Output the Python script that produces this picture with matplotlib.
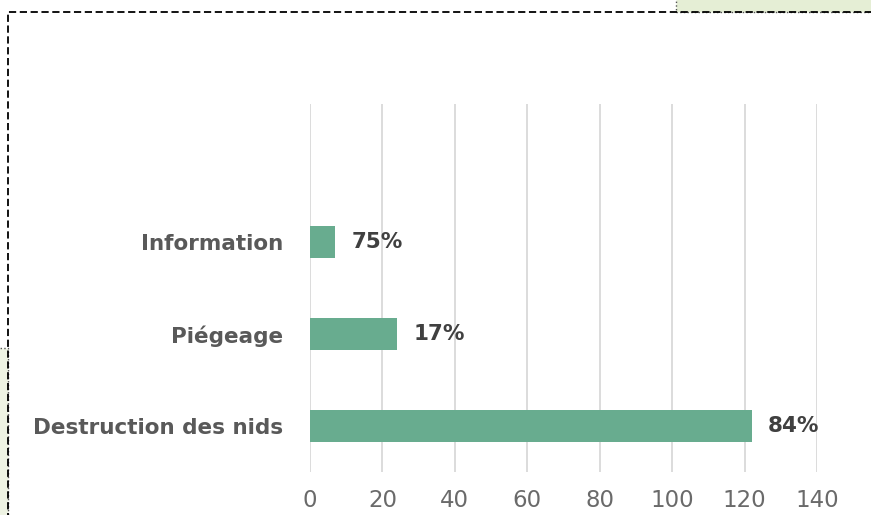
import matplotlib.pyplot as plt
from matplotlib.patches import Rectangle

categories = ["Destruction des nids", "Piégeage", "Information"]
values = [122, 24, 7]
labels = ["84%", "17%", "75%"]
ticks = [0, 20, 40, 60, 80, 100, 120, 140]

plt.rcParams['font.family'] = ['DejaVu Sans']

fig = plt.figure(figsize=(8.71, 5.15), dpi=100)
ax = fig.add_axes([310 / 871, 1 - 472 / 515, 507 / 871, 368 / 515])

ypos = list(range(len(categories)))
ax.barh(ypos, values, height=0.34, color='#68AC8F', zorder=3)
for y, v, t in zip(ypos, values, labels):
    ax.text(v + 4.5, y, t, va='center', ha='left', fontsize=15.5,
            fontweight='bold', color='#404040')

ax.set_xlim(0, 140)
ax.set_ylim(-0.5, 3.5)
ax.set_xticks(ticks)
ax.set_xticklabels([str(t) for t in ticks], fontsize=16.5, color='#6A6A6A')
ax.set_yticks(ypos)
ax.set_yticklabels(categories, fontsize=15.5, fontweight='bold', color='#595959')
ax.tick_params(axis='both', length=0)
ax.tick_params(axis='x', pad=12)
ax.tick_params(axis='y', pad=19)
ax.grid(axis='x', color='#D9D9D9', linewidth=1.3, zorder=0)
for s in ax.spines.values():
    s.set_visible(False)

# decorative frame pieces around the chart
fig.patches.append(Rectangle((676 / 871, 1 - 12 / 515), 0.3, 0.05,
                             transform=fig.transFigure, facecolor='#E5EED5',
                             edgecolor='#555555', linestyle=':', linewidth=1,
                             zorder=0))
fig.patches.append(Rectangle((-0.02, -0.05), 0.0292, 0.05 + 1 - 348 / 515,
                             transform=fig.transFigure, facecolor='#EEF3E3',
                             edgecolor='#555555', linestyle=':', linewidth=1,
                             zorder=0))
fig.patches.append(Rectangle((8 / 871, -0.1), 1.1, 0.1 + 1 - 12 / 515,
                             transform=fig.transFigure, facecolor='none',
                             edgecolor='black', linestyle=(0, (4, 2)),
                             linewidth=1.3, zorder=1))

fig.savefig('out.png', dpi=100)
